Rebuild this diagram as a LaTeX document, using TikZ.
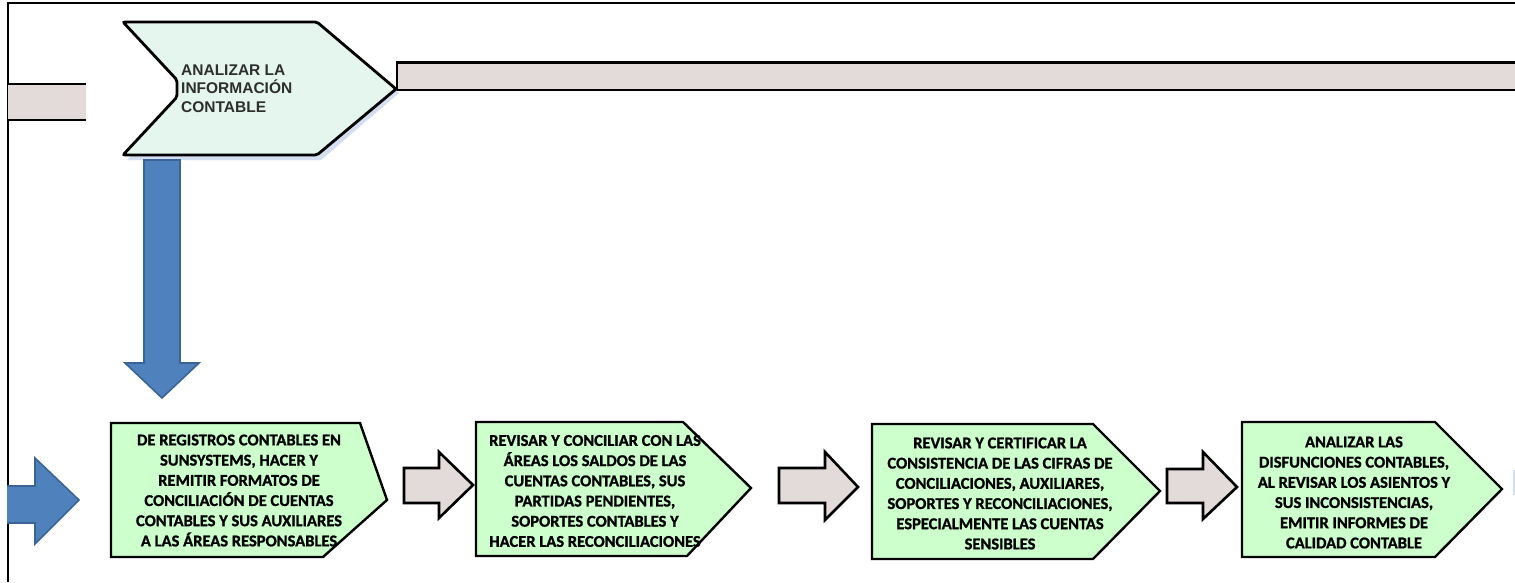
\documentclass[tikz,border=0pt]{standalone}
\usepackage{fontspec}
\setmainfont{Carlito}[BoldFeatures={FakeBold=1.2}]
\newfontfamily\arialf{Liberation Sans}
\definecolor{mint}{HTML}{E4F6EE}
\definecolor{shadowblue}{HTML}{D3DEF0}
\definecolor{rose}{HTML}{E3DBDA}
\definecolor{lgreen}{HTML}{CCFFCC}
\definecolor{bfill}{HTML}{4F81BD}
\definecolor{bline}{HTML}{3A6496}
\definecolor{tgray}{HTML}{2E2E2E}
\begin{document}
\begin{tikzpicture}[x=1pt,y=-1pt,
  frame/.style={draw=black,line width=1.6pt},
  greenbox/.style={fill=lgreen,draw=black,line width=2.4pt,line join=miter},
  grayarrow/.style={fill=rose,draw=black,line width=2.6pt,line join=miter},
  bluearrow/.style={fill=bfill,draw=bline,line width=1.6pt,line join=miter},
  boxtext/.style={align=center,inner sep=0pt,text=black,font=\bfseries\fontsize{16.5}{20.2}\selectfont},
  toptext/.style={align=left,inner sep=0pt,anchor=west,text=tgray,font=\arialf\bfseries\fontsize{15.5}{18.5}\selectfont}]
\useasboundingbox (0,0) rectangle (1515,582);
\fill[white] (0,0) rectangle (1515,582);
% frame
\draw[frame] (8,582) -- (8,3) -- (1515,3);
% left top bar
\fill[rose] (8,84) rectangle (86,120);
\draw[black,line width=2.6pt] (8,84) -- (86,84) (8,120) -- (86,120);
% top right bar
\fill[rose] (397,62.5) rectangle (1516,90);
\draw[black,line width=2.6pt] (1516,62.5) -- (397,62.5) -- (397,90) -- (1516,90);
% shadow of chevron
\fill[shadowblue] (127,26) -- (321,26) -- (399,93) -- (321,160) -- (127,160) -- (181,101) -- (181,84) -- cycle;
% top chevron
\path[fill=mint,draw=black,line width=2.8pt,rounded corners=2pt]
  (123,22) -- (317,22) -- (396,89) -- (317,155) -- (123,155) -- (177,97) -- (177,80) -- cycle;
\node[toptext] (analizar) at (181,88.5) {ANALIZAR LA\\INFORMACIÓN\\CONTABLE};
% blue down arrow
\path[bluearrow] (144,160) -- (180,160) -- (180,363) -- (199,363) -- (162,398) -- (125,363) -- (144,363) -- cycle;
% blue right arrow
\path[bluearrow] (7,486) -- (35,486) -- (35,458) -- (79,500) -- (35,544) -- (35,523) -- (7,523);
% gray arrows
\path[grayarrow] (404,468) -- (439,468) -- (439,452) -- (473,485) -- (439,518) -- (439,503) -- (404,503) -- cycle;
\path[grayarrow] (779,468) -- (825,468) -- (825,452) -- (858,487) -- (825,520) -- (825,503) -- (779,503) -- cycle;
\path[grayarrow] (1167,469) -- (1203,469) -- (1203,452) -- (1237,487) -- (1203,519) -- (1203,503) -- (1167,503) -- cycle;
% right edge sliver
\fill[shadowblue] (1513,470) rectangle (1516,495);
% green boxes
\path[greenbox] (111,423) -- (360,423) -- (387,500) -- (323,557) -- (111,557) -- cycle;
\path[greenbox] (476,422) -- (683,422) -- (751,488) -- (687,556) -- (476,556) -- cycle;
\path[greenbox] (872,424) -- (1093,424) -- (1160,491) -- (1093,559) -- (872,559) -- cycle;
\path[greenbox] (1242,422) -- (1435,422) -- (1502,489) -- (1435,557) -- (1242,557) -- cycle;
\node[boxtext] (b1) at (239,490.5) {DE REGISTROS CONTABLES EN\\SUNSYSTEMS, HACER Y\\REMITIR FORMATOS DE\\CONCILIACIÓN DE CUENTAS\\CONTABLES Y SUS AUXILIARES\\A LAS ÁREAS RESPONSABLES};
\node[boxtext] (b2) at (595,491) {REVISAR Y CONCILIAR CON LAS\\ÁREAS LOS SALDOS DE LAS\\CUENTAS CONTABLES, SUS\\PARTIDAS PENDIENTES,\\SOPORTES CONTABLES Y\\HACER LAS RECONCILIACIONES};
\node[boxtext] (b3) at (1000,493.5) {REVISAR Y CERTIFICAR LA\\CONSISTENCIA DE LAS CIFRAS DE\\CONCILIACIONES, AUXILIARES,\\SOPORTES Y RECONCILIACIONES,\\ESPECIALMENTE LAS CUENTAS\\SENSIBLES};
\node[boxtext] (b4) at (1354,492.5) {ANALIZAR LAS\\DISFUNCIONES CONTABLES,\\AL REVISAR LOS ASIENTOS Y\\SUS INCONSISTENCIAS,\\EMITIR INFORMES DE\\CALIDAD CONTABLE};
\end{tikzpicture}
\end{document}
